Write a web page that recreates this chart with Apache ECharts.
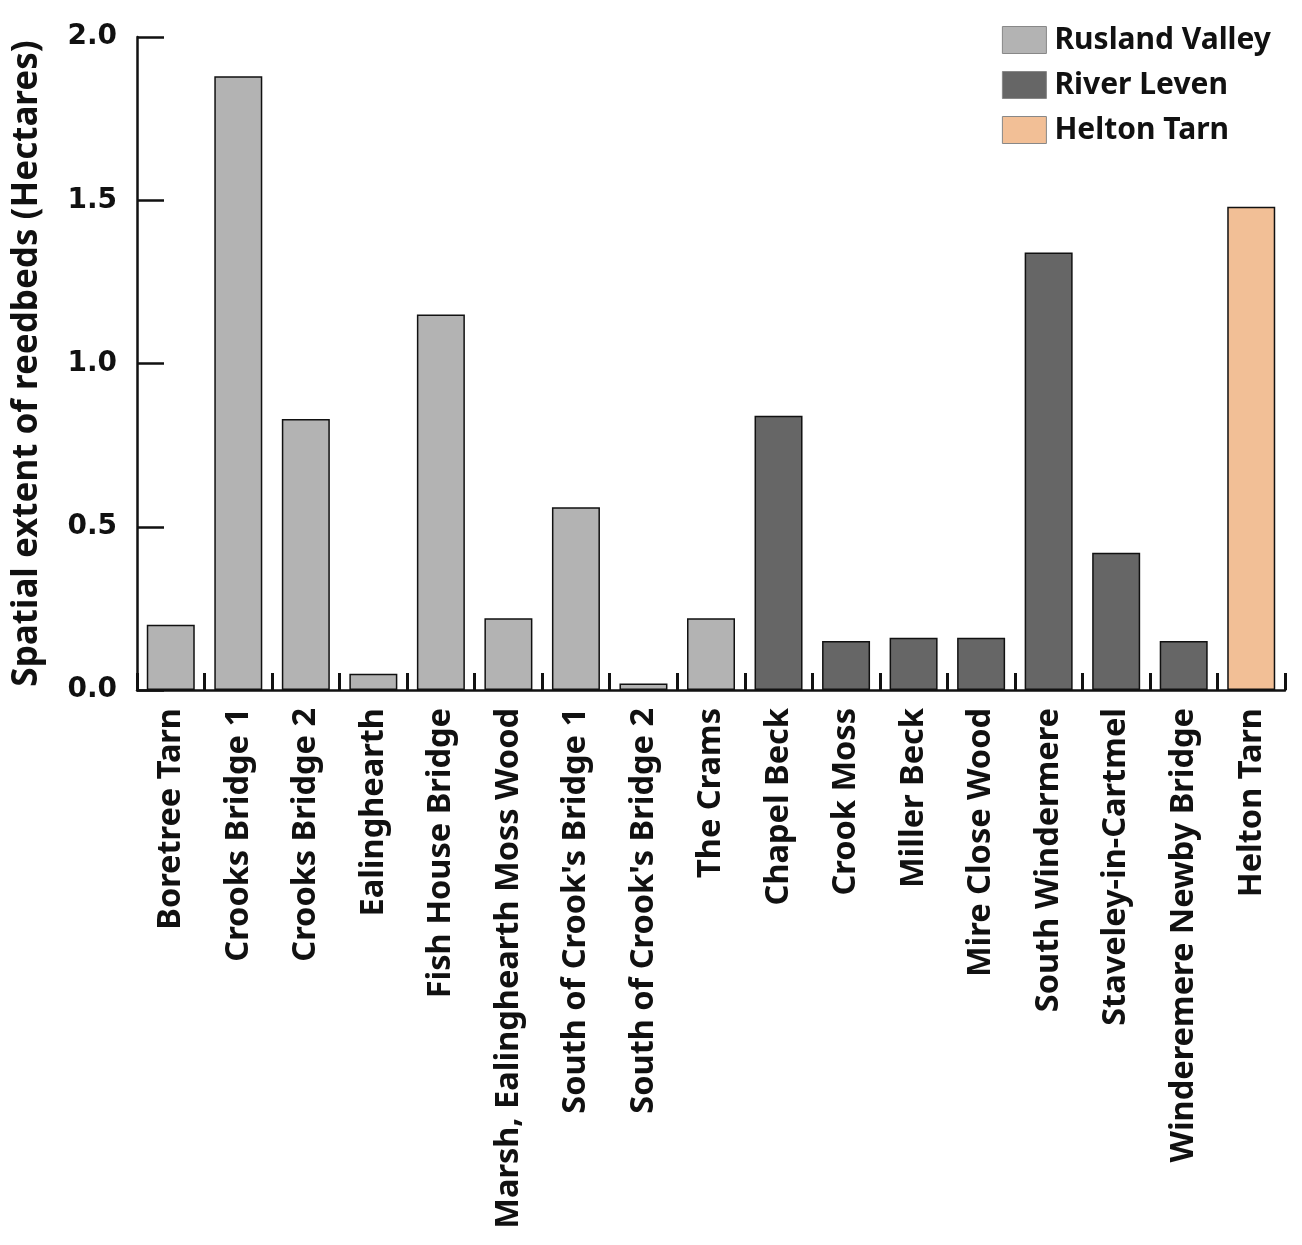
<!DOCTYPE html>
<html><head><meta charset="utf-8">
<script src="https://cdn.jsdelivr.net/npm/echarts@6/dist/echarts.min.js"></script>
<style>html,body{margin:0;padding:0;background:#fff}#c{width:1302px;height:1245px}</style>
</head><body><div id="c"></div>
<script>
const categories = ["Boretree Tarn","Crooks Bridge 1","Crooks Bridge 2","Ealinghearth","Fish House Bridge","Marsh, Ealinghearth Moss Wood","South of Crook's Bridge 1","South of Crook's Bridge 2","The Crams","Chapel Beck","Crook Moss","Miller Beck","Mire Close Wood","South Windermere","Staveley-in-Cartmel","Winderemere Newby Bridge","Helton Tarn"];
const rusland = [0.20,1.88,0.83,0.05,1.15,0.22,0.56,0.02,0.22,'-','-','-','-','-','-','-','-'];
const leven   = ['-','-','-','-','-','-','-','-','-',0.84,0.15,0.16,0.16,1.34,0.42,0.15,'-'];
const helton  = ['-','-','-','-','-','-','-','-','-','-','-','-','-','-','-','-',1.48];
const yTicks = [0,0.5,1.0,1.5,2.0];
const FONT = 'Noto Sans';
const chart = echarts.init(document.getElementById('c'));
const mk = (name, data, color) => ({
  name, type:'bar', stack:'all', data, barWidth: 48,
  itemStyle:{color, borderColor:'#111', borderWidth:1.5}
});
chart.setOption({
  animation:false,
  textStyle:{fontFamily:FONT},
  grid:{left:137,right:17,top:37,bottom:555,containLabel:false,outerBoundsMode:'none'},
  legend:{
    right:26, top:20, orient:'vertical', itemWidth:44, itemHeight:27, itemGap:15,
    icon:'rect',
    textStyle:{fontFamily:FONT,fontSize:30,fontWeight:'bold',color:'#111',padding:[0,0,0,3]},
    itemStyle:{borderColor:'#888',borderWidth:1}
  },
  xAxis:{
    type:'category', data:categories,
    axisLine:{show:true,lineStyle:{color:'#111',width:2.5}},
    axisTick:{show:true,inside:true,length:17,interval:0,lineStyle:{color:'#111',width:3}},
    axisLabel:{rotate:90,interval:0,margin:18,fontFamily:FONT,fontSize:32.5,fontWeight:'bold',color:'#111'}
  },
  yAxis:{
    type:'value', min:0, max:2, interval:0.5,
    name:'Spatial extent of reedbeds (Hectares)', nameLocation:'middle', nameGap:92,
    nameTextStyle:{fontFamily:FONT,fontSize:35,fontWeight:'bold',color:'#111'},
    splitLine:{show:false},
    axisLine:{show:true,lineStyle:{color:'#111',width:2.5}},
    axisTick:{show:true,inside:true,length:27,lineStyle:{color:'#111',width:2.5}},
    axisLabel:{margin:20,fontFamily:'DejaVu Sans',fontSize:28,fontWeight:'bold',color:'#111',
      formatter:v=>{const t=yTicks.find(x=>Math.abs(x-v)<1e-9);return (t!==undefined?t:v).toFixed(1);}}
  },
  series:[
    mk('Rusland Valley', rusland, '#b3b3b3'),
    mk('River Leven', leven, '#666666'),
    mk('Helton Tarn', helton, '#f2bf96')
  ]
});
</script></body></html>
